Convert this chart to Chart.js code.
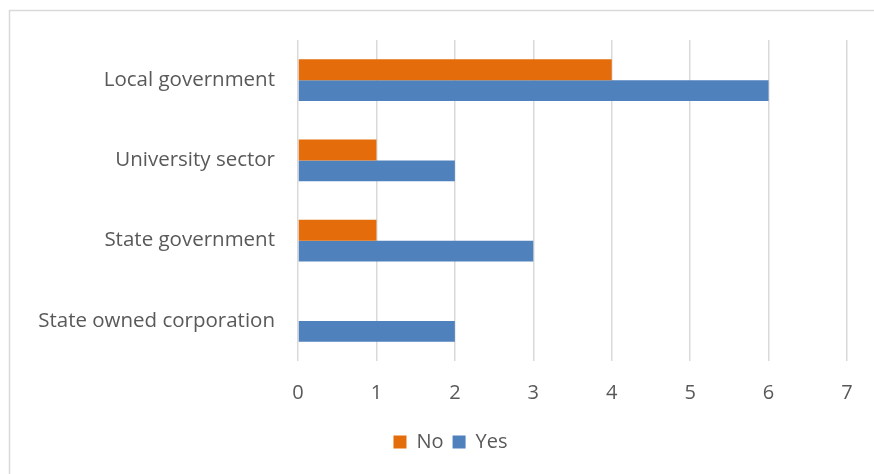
<!DOCTYPE html>
<html>
<head>
<meta charset="utf-8">
<script src="https://cdn.jsdelivr.net/npm/chart.js@4/dist/chart.umd.min.js"></script>
<style>
html,body{margin:0;padding:0;background:#fff;}
#wrap{position:relative;width:874px;height:474px;}
</style>
</head>
<body>
<div id="wrap"><canvas id="sectorChart" width="874" height="474"></canvas></div>
<script>
// sectors, top to bottom
const sectors = ["Local government", "University sector", "State government", "State owned corporation"];
const noCounts = [4, 1, 1, 0];
const yesCounts = [6, 2, 3, 2];
const xTicks = [0, 1, 2, 3, 4, 5, 6, 7];

const textColor = "#595959";
const fontFamily = "'Open Sans', 'DejaVu Sans', sans-serif";

// thin frame on the left and top edges
const framePlugin = {
  id: "frame",
  beforeDraw(chart){
    const c = chart.ctx;
    c.save();
    c.strokeStyle = "#d9d9d9";
    c.lineWidth = 1.5;
    c.beginPath();
    c.moveTo(9.5, chart.height + 5);
    c.lineTo(9.5, 10.5);
    c.lineTo(chart.width + 5, 10.5);
    c.stroke();
    c.restore();
  }
};

// nudge the legend to the right so it sits under the middle of the frame
const legendShift = {
  id: "legendShift",
  afterLayout(chart){
    chart.legend.left += 27;
    chart.legend.right += 27;
  }
};

Chart.defaults.font.family = fontFamily;
Chart.defaults.color = textColor;

new Chart(document.getElementById("sectorChart"), {
  type: "bar",
  data: {
    labels: sectors,
    datasets: [
      {label: "No", data: noCounts, backgroundColor: "#e46c0a"},
      {label: "Yes", data: yesCounts, backgroundColor: "#4f81bd"}
    ]
  },
  options: {
    indexAxis: "y",
    responsive: false,
    animation: false,
    layout: {padding: {top: 40, right: 27, bottom: 12, left: 0}},
    datasets: {bar: {barPercentage: 1, categoryPercentage: 0.52}},
    scales: {
      x: {
        min: 0, max: 7,
        afterBuildTicks(axis){ axis.ticks = xTicks.map(v => ({value: v})); },
        grid: {color: "#d9d9d9", lineWidth: 1.5, drawTicks: false},
        border: {display: false},
        ticks: {padding: 20, font: {size: 20}, color: textColor},
        afterFit(axis){ axis.height = 62; }
      },
      y: {
        grid: {display: false, drawTicks: false},
        border: {display: false},
        ticks: {padding: 23, font: {size: 20.5}, color: textColor},
        afterFit(axis){ axis.width = 298; }
      }
    },
    plugins: {
      legend: {
        position: "bottom",
        labels: {boxWidth: 13, boxHeight: 13, padding: 9, font: {size: 20}, color: textColor}
      },
      tooltip: {enabled: false}
    }
  },
  plugins: [framePlugin, legendShift]
});
</script>
</body>
</html>
